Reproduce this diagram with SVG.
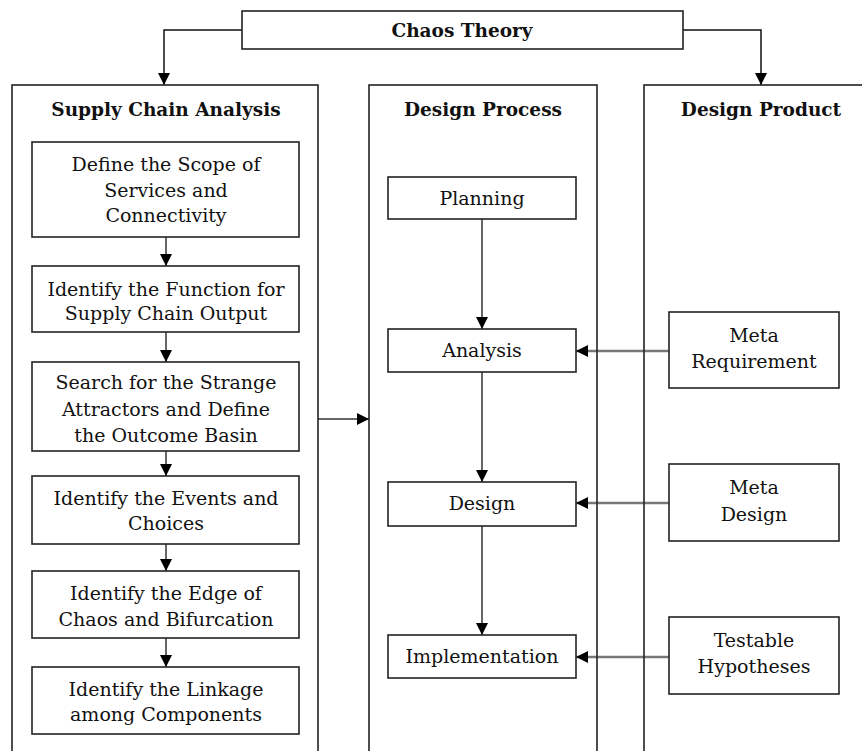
<svg xmlns="http://www.w3.org/2000/svg" width="862" height="751" viewBox="0 0 862 751">
<style>
.box{fill:#fff;stroke:#222;stroke-width:1.6}
.col{fill:none;stroke:#222;stroke-width:1.6}
.t{font-family:"DejaVu Serif","Liberation Serif",serif;font-size:19px;fill:#111;text-anchor:middle}
.h{font-family:"DejaVu Serif","Liberation Serif",serif;font-size:18.5px;font-weight:bold;fill:#111;text-anchor:middle}
.c{fill:none;stroke:#666;stroke-width:2}
.w{fill:none;stroke:#777;stroke-width:2.6}
.k{fill:none;stroke:#111;stroke-width:1.5}
</style>
<defs>
<marker id="ah" markerUnits="userSpaceOnUse" markerWidth="12" markerHeight="12" viewBox="0 0 12 12" refX="12" refY="6" orient="auto">
<path d="M0,0 L12,6 L0,12 Z" fill="#000"/>
</marker>
</defs>
<rect width="862" height="751" fill="#fff"/>
<g id="connectors">
<path class="k" d="M242,30 H164 V85" marker-end="url(#ah)"/>
<path class="k" d="M683,30 H761 V85" marker-end="url(#ah)"/>
<path class="c" d="M166,237 V266" marker-end="url(#ah)"/>
<path class="c" d="M166,332 V362" marker-end="url(#ah)"/>
<path class="c" d="M166,451 V476" marker-end="url(#ah)"/>
<path class="c" d="M166,544 V571" marker-end="url(#ah)"/>
<path class="c" d="M166,638 V667" marker-end="url(#ah)"/>
<path class="c" d="M318,419 H369" marker-end="url(#ah)"/>
<path class="c" d="M482,219 V329" marker-end="url(#ah)"/>
<path class="c" d="M482,372 V482" marker-end="url(#ah)"/>
<path class="c" d="M482,526 V635" marker-end="url(#ah)"/>
<path class="w" d="M669,351 H576" marker-end="url(#ah)"/>
<path class="w" d="M669,503 H576" marker-end="url(#ah)"/>
<path class="w" d="M669,657 H576" marker-end="url(#ah)"/>
</g>
<g id="chaos-theory">
<rect class="box" x="242" y="11" width="441" height="38"/>
<text class="h" x="462" y="37">Chaos Theory</text>
</g>
<g id="supply-chain-analysis">
<rect class="col" x="12" y="85" width="306" height="680"/>
<text class="h" x="166" y="116">Supply Chain Analysis</text>
</g>
<g id="design-process">
<rect class="col" x="369" y="85" width="228" height="680"/>
<text class="h" x="483" y="116">Design Process</text>
</g>
<g id="design-product">
<rect class="col" x="644" y="85" width="240" height="680"/>
<text class="h" x="761" y="116">Design Product</text>
</g>
<g id="define-scope">
<rect class="box" x="32" y="142" width="267" height="95"/>
<text class="t" x="166" y="171">Define the Scope of</text>
<text class="t" x="166" y="197">Services and</text>
<text class="t" x="166" y="222">Connectivity</text>
</g>
<g id="identify-function">
<rect class="box" x="32" y="266" width="267" height="66"/>
<text class="t" x="166" y="296">Identify the Function for</text>
<text class="t" x="166" y="320">Supply Chain Output</text>
</g>
<g id="strange-attractors">
<rect class="box" x="32" y="362" width="267" height="89"/>
<text class="t" x="166" y="389">Search for the Strange</text>
<text class="t" x="166" y="416">Attractors and Define</text>
<text class="t" x="166" y="442">the Outcome Basin</text>
</g>
<g id="events-choices">
<rect class="box" x="32" y="476" width="267" height="68"/>
<text class="t" x="166" y="505">Identify the Events and</text>
<text class="t" x="166" y="530">Choices</text>
</g>
<g id="edge-of-chaos">
<rect class="box" x="32" y="571" width="267" height="67"/>
<text class="t" x="166" y="600">Identify the Edge of</text>
<text class="t" x="166" y="626">Chaos and Bifurcation</text>
</g>
<g id="linkage">
<rect class="box" x="32" y="667" width="267" height="67"/>
<text class="t" x="166" y="696">Identify the Linkage</text>
<text class="t" x="166" y="721">among Components</text>
</g>
<g id="planning">
<rect class="box" x="388" y="177" width="188" height="42"/>
<text class="t" x="482" y="205">Planning</text>
</g>
<g id="analysis">
<rect class="box" x="388" y="329" width="188" height="43"/>
<text class="t" x="482" y="357">Analysis</text>
</g>
<g id="design">
<rect class="box" x="388" y="482" width="188" height="44"/>
<text class="t" x="482" y="510">Design</text>
</g>
<g id="implementation">
<rect class="box" x="388" y="635" width="188" height="43"/>
<text class="t" x="482" y="663">Implementation</text>
</g>
<g id="meta-requirement">
<rect class="box" x="669" y="312" width="170" height="76"/>
<text class="t" x="754" y="342">Meta</text>
<text class="t" x="754" y="368">Requirement</text>
</g>
<g id="meta-design">
<rect class="box" x="669" y="464" width="170" height="77"/>
<text class="t" x="754" y="494">Meta</text>
<text class="t" x="754" y="521">Design</text>
</g>
<g id="testable-hypotheses">
<rect class="box" x="669" y="617" width="170" height="77"/>
<text class="t" x="754" y="647">Testable</text>
<text class="t" x="754" y="673">Hypotheses</text>
</g>
</svg>
